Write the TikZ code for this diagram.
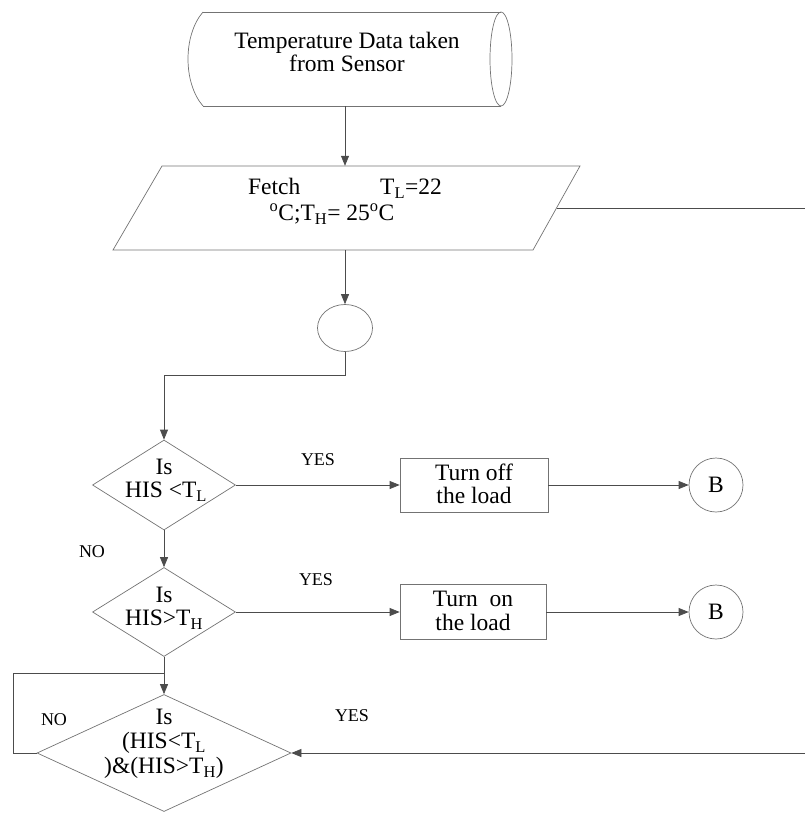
\documentclass[tikz,border=0pt]{standalone}
\usepackage{fontspec}
\setmainfont{Liberation Serif}
\usetikzlibrary{shapes.geometric,arrows.meta}
\begin{document}
\begin{tikzpicture}[x=1pt,y=-1pt,
  shp/.style={draw=black!55, line width=0.7pt},
  con/.style={draw=black!70, line width=0.7pt},
  arr/.style={con,-{Triangle[length=10pt,width=8pt]}},
  txt/.style={font=\fontsize{23.5}{23.5}\selectfont, align=center, inner sep=0},
  lbl/.style={font=\fontsize{18}{20}\selectfont, inner sep=0},
  dia/.style={shp, diamond, inner sep=0},
  box/.style={shp, rectangle, inner sep=0},
]
\useasboundingbox (0,0) rectangle (805,816);
% source (stored data)
\node[inner sep=0, minimum width=300pt, minimum height=94pt] (src) at (345,59) {};
\draw[shp] (203,12) -- (501,12);
\draw[shp] (203,106) -- (501,106);
\draw[shp] (203,12) .. controls (183,35) and (183,83) .. (203,106);
\draw[shp] (501,59) ellipse [x radius=11, y radius=47];
\node[txt] (srct) at (347,52) {Temperature Data taken\\from Sensor};
% fetch parallelogram
\node[inner sep=0, minimum width=370pt, minimum height=84pt] (fetch) at (345,208) {};
\draw[shp] (162,166) -- (580,166) -- (533,250) -- (113,250) -- cycle;
\node[txt] (ft1) at (345,188) {Fetch\hspace{3.4em}T\textsubscript{L}=22};
\node[txt] (ft2) at (332,214) {\textsuperscript{o}C;T\textsubscript{H}= 25\textsuperscript{o}C};
\coordinate (fr) at (556.5,208);
\coordinate (edge1) at (805,208);
\draw[con] (fr) -- (edge1);
\draw[arr] (src.south) -- (fetch.north);
% connector circle
\node[shp, ellipse, inner sep=0, minimum width=55pt, minimum height=47pt] (conn) at (345,328) {};
\draw[arr] (fetch.south) -- (conn.north);
% decision 1
\node[dia, minimum width=143pt, minimum height=90pt] (d1) at (164,485) {};
\node[txt] (d1a) at (164,467) {Is};
\node[txt] (d1b) at (166,492) {HIS <T\textsubscript{L}};
\coordinate (j1) at (345,375);
\draw[arr] (conn.south) -- (j1) -| (d1.north);
\node[box, minimum width=148pt, minimum height=54pt] (off) at (474,485) {};
\node[txt] (offt) at (474,484) {Turn off\\the load};
\node[shp, circle, inner sep=0, minimum size=54pt] (b1) at (716,485) {};
\node[txt] (b1t) at (716,485) {B};
\draw[arr] (d1.east) -- (off.west);
\draw[arr] (off.east) -- (b1.west);
\node[lbl] (yes1) at (318,460) {YES};
\node[lbl] (no1) at (92,552) {NO};
% decision 2
\node[dia, minimum width=143pt, minimum height=89pt] (d2) at (164,612) {};
\node[txt] (d2a) at (164,595) {Is};
\node[txt] (d2b) at (164,620) {HIS>T\textsubscript{H}};
\draw[arr] (d1.south) -- (d2.north);
\node[box, minimum width=146pt, minimum height=55pt] (on) at (473,612) {};
\node[txt] (ont) at (473,611) {Turn\ \ on\\the load};
\node[shp, circle, inner sep=0, minimum size=54pt] (b2) at (716,612) {};
\node[txt] (b2t) at (716,612) {B};
\draw[arr] (d2.east) -- (on.west);
\draw[arr] (on.east) -- (b2.west);
\node[lbl] (yes2) at (316,580) {YES};
% decision 3
\node[dia, minimum width=254pt, minimum height=117pt] (d3) at (164,753) {};
\node[txt] (d3a) at (164,717) {Is};
\node[txt] (d3b) at (164,743) {(HIS<T\textsubscript{L}};
\node[txt] (d3c) at (164,768) {)\&(HIS>T\textsubscript{H})};
\draw[arr] (d2.south) -- (d3.north);
\coordinate (lp1) at (13,673);
\coordinate (j2) at (164,673);
\draw[con] (d3.west) -| (lp1) -- (j2);
\coordinate (edge2) at (805,753);
\draw[arr] (edge2) -- (d3.east);
\node[lbl] (no2) at (54,720) {NO};
\node[lbl] (yes3) at (352,716) {YES};
\end{tikzpicture}
\end{document}
